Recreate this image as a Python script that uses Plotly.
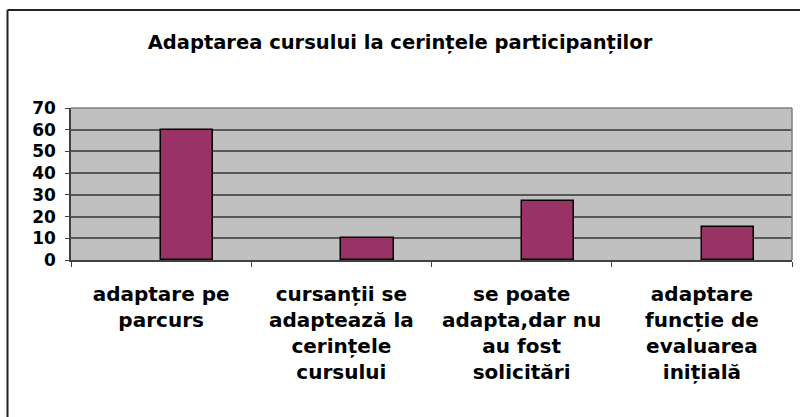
import plotly.graph_objects as go

# categories and values
categories = [
    "adaptare pe<br>parcurs",
    "cursanții se<br>adaptează la<br>cerințele<br>cursului",
    "se poate<br>adapta,dar nu<br>au fost<br>solicitări",
    "adaptare<br>funcție de<br>evaluarea<br>inițială",
]
values = [60, 10, 27, 15]
y_ticks = [0, 10, 20, 30, 40, 50, 60, 70]

title_text = "Adaptarea cursului la cerințele participanților"

FONT = "DejaVu Sans"

fig = go.Figure()

fig.add_trace(go.Bar(
    x=categories,
    y=values,
    offset=0,
    width=0.29,
    marker=dict(color="#993366", line=dict(color="#000000", width=1.5)),
    showlegend=False,
))

fig.update_layout(
    width=800,
    height=417,
    margin=dict(l=71, r=8, t=108, b=157),
    paper_bgcolor="white",
    plot_bgcolor="#C0C0C0",
    font=dict(family=FONT, color="#000000"),
    title=dict(
        text="<b>" + title_text + "</b>",
        x=0.5, xanchor="center",
        y=1 - 42 / 417, yanchor="middle",
        font=dict(family=FONT, size=19.5, color="#000000"),
    ),
    bargap=0,
)

fig.update_xaxes(
    type="category",
    tickson="boundaries",
    ticks="outside",
    ticklen=5,
    tickcolor="#404040",
    showline=True,
    linecolor="#404040",
    linewidth=1.5,
    showgrid=False,
    tickfont=dict(family=FONT, size=20, color="#000000", weight="bold"),
    ticklabelstandoff=15,
)

fig.update_yaxes(
    range=[0, 70],
    tickvals=y_ticks,
    ticks="outside",
    ticklen=4,
    tickcolor="#404040",
    showline=True,
    linecolor="#404040",
    linewidth=1.5,
    showgrid=True,
    gridcolor="#585858",
    gridwidth=1.5,
    zeroline=False,
    tickfont=dict(family=FONT, size=17, color="#000000", weight="bold"),
    ticklabelstandoff=6,
)

# light border on the top and right of the plot area
fig.add_shape(type="line", xref="x domain", yref="y domain",
              x0=0, x1=1, y0=1, y1=1, line=dict(color="#808080", width=1.5))
fig.add_shape(type="line", xref="x domain", yref="y domain",
              x0=1, x1=1, y0=0, y1=1, line=dict(color="#808080", width=1.5))

# outer chart frame: only its top and left edges are inside the picture
frame_left = (7.5 - 71) / 721
frame_top = (260 - 10) / 152
fig.add_shape(type="line", xref="paper", yref="paper",
              x0=frame_left, x1=(820 - 71) / 721, y0=frame_top, y1=frame_top,
              line=dict(color="#222222", width=2))
fig.add_shape(type="line", xref="paper", yref="paper",
              x0=frame_left, x1=frame_left, y0=(260 - 440) / 152, y1=frame_top,
              line=dict(color="#222222", width=2))

# drop the default page margin and scrollbars so the figure fills the window
page_js = (
    "document.body.style.margin = '0';"
    "document.body.style.overflow = 'hidden';"
    "document.documentElement.style.overflow = 'hidden';"
)
fig.write_html("out.html", config={"displayModeBar": False}, post_script=page_js)
